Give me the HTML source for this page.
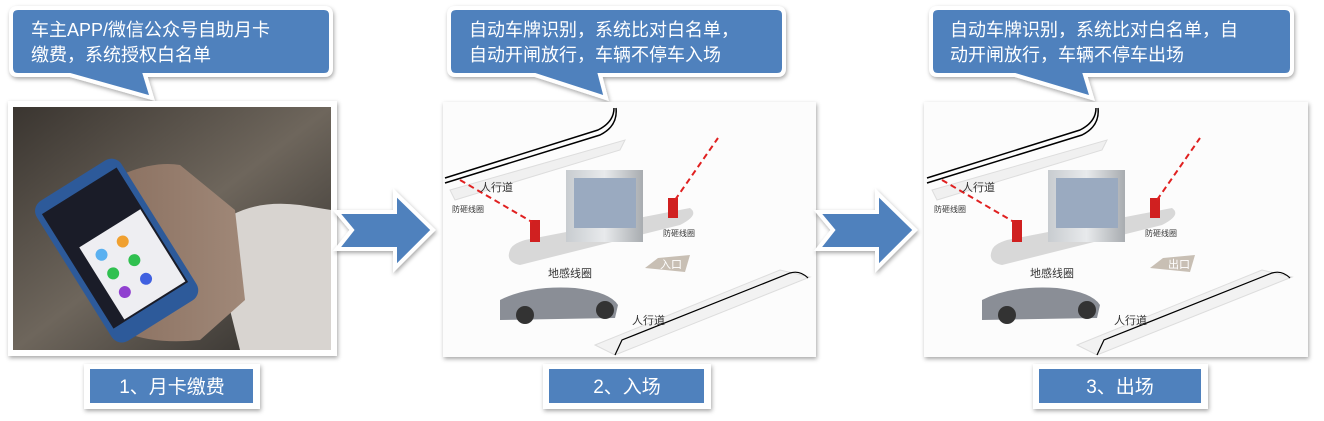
<!DOCTYPE html>
<html><head><meta charset="utf-8"><style>
body{margin:0;width:1324px;height:421px;background:#fff;overflow:hidden;font-family:"Liberation Sans","Noto Sans CJK SC",sans-serif}
svg{position:absolute;left:0;top:0}
</style></head><body>
<svg width="1324" height="421" viewBox="0 0 1324 421" font-family="Liberation Sans, Noto Sans CJK SC, sans-serif">
<defs>
<filter id="sh" x="-10%" y="-10%" width="120%" height="130%"><feDropShadow dx="1" dy="2" stdDeviation="2" flood-color="#000" flood-opacity="0.35"/></filter>
<linearGradient id="bg1" x1="0" y1="0" x2="1" y2="1"><stop offset="0" stop-color="#3a3530"/><stop offset="0.5" stop-color="#6e665c"/><stop offset="1" stop-color="#2c2a28"/></linearGradient>
<linearGradient id="hand" x1="0" y1="0" x2="1" y2="0"><stop offset="0" stop-color="#8a7060"/><stop offset="1" stop-color="#a08878"/></linearGradient>
<linearGradient id="booth" x1="0" y1="0" x2="1" y2="0"><stop offset="0" stop-color="#c8ccd0"/><stop offset="0.5" stop-color="#e8eaec"/><stop offset="1" stop-color="#a8acb0"/></linearGradient>
</defs>

<g filter="url(#sh)">
<path d="M18,8 H324 Q331,8 331,15 V68 Q331,75 324,75 H145 L152,98 L70,75 H18 Q11,75 11,68 V15 Q11,8 18,8Z" fill="#4f81bd" stroke="#fff" stroke-width="4"/>
<path d="M456,8 H777 Q784,8 784,15 V68 Q784,75 777,75 H600 L606,98 L535,75 H456 Q449,75 449,68 V15 Q449,8 456,8Z" fill="#4f81bd" stroke="#fff" stroke-width="4"/>
<path d="M938,8 H1285 Q1292,8 1292,15 V68 Q1292,75 1285,75 H1085 L1092,98 L1015,75 H938 Q931,75 931,68 V15 Q931,8 938,8Z" fill="#4f81bd" stroke="#fff" stroke-width="4"/>
</g>
<g fill="#fff" font-size="18">
<text x="31" y="36">车主APP/微信公众号自助月卡</text>
<text x="31" y="61">缴费，系统授权白名单</text>
<text x="469" y="36">自动车牌识别，系统比对白名单，</text>
<text x="469" y="61">自动开闸放行，车辆不停车入场</text>
<text x="950" y="36">自动车牌识别，系统比对白名单，自</text>
<text x="950" y="61">动开闸放行，车辆不停车出场</text>
</g>

<rect x="8" y="101" width="329" height="255" fill="#fff" filter="url(#sh)"/>
<rect x="13" y="107" width="318" height="243" fill="url(#bg1)"/>
<path d="M230,310 L232,215 Q260,200 300,205 L331,210 V350 H240Z" fill="#d8d4d0"/>
<path d="M110,180 Q150,160 180,165 L235,210 L245,300 L200,340 Q150,345 120,330Z" fill="url(#hand)"/>
<g transform="rotate(-32 110 240)">
<rect x="60" y="170" width="100" height="165" rx="12" fill="#2d5a9a"/>
<rect x="66" y="182" width="88" height="135" fill="#1a1c28"/>
<rect x="80" y="230" width="72" height="85" fill="#eeeef2"/>
<circle cx="95" cy="248" r="6" fill="#5ab0f0"/><circle cx="120" cy="248" r="6" fill="#f0a030"/>
<circle cx="95" cy="270" r="6" fill="#30c050"/><circle cx="120" cy="270" r="6" fill="#30c050"/>
<circle cx="95" cy="292" r="6" fill="#9040d0"/><circle cx="120" cy="292" r="6" fill="#4060e0"/>
</g>

<rect x="443" y="102" width="373" height="255" fill="#fcfcfc" filter="url(#sh)"/>
<rect x="924" y="102" width="384" height="255" fill="#fcfcfc" filter="url(#sh)"/>

<g id="scene">
<path d="M445,178 L598,130 Q614,122 614,108" fill="none" stroke="#000" stroke-width="1.5"/>
<path d="M445,183 L600,135 Q618,126 616,108" fill="none" stroke="#000" stroke-width="1.5"/>
<path d="M450,190 L625,140 L620,150 L455,200Z" fill="#f0f0f0" stroke="#ddd"/>
<path d="M595,345 L780,270 L810,277 L615,355Z" fill="#f2f2f2" stroke="#ddd"/>
<path d="M615,355 L622,340 L790,273 Q800,270 808,278" fill="none" stroke="#000" stroke-width="1.2"/>
<path d="M510,250 Q505,262 520,265 L680,225 Q700,215 690,208 L525,240 Q512,244 510,250Z" fill="#d8d8d8"/>
<rect x="566" y="170" width="77" height="72" fill="url(#booth)"/>
<rect x="574" y="178" width="62" height="50" fill="#9aaac0"/>
<rect x="530" y="220" width="10" height="22" fill="#d02020"/>
<rect x="668" y="198" width="10" height="20" fill="#d02020"/>
<line x1="460" y1="180" x2="532" y2="222" stroke="#e02020" stroke-width="2" stroke-dasharray="6,4"/>
<line x1="675" y1="200" x2="718" y2="138" stroke="#e02020" stroke-width="2" stroke-dasharray="6,4"/>
<path d="M500,300 Q530,285 575,288 Q610,292 618,305 L615,318 L500,320Z" fill="#8a8e96"/>
<circle cx="525" cy="315" r="9" fill="#333"/><circle cx="605" cy="310" r="9" fill="#333"/>
<g font-size="11" fill="#333"><text x="480" y="191">人行道</text><text x="632" y="324">人行道</text><text x="548" y="277">地感线圈</text></g>
<g font-size="8" fill="#333"><text x="452" y="212">防砸线圈</text><text x="663" y="236">防砸线圈</text></g>
</g>
<use href="#scene" transform="translate(482,0)"/>
<path d="M645,268 L658,258 L690,255 L685,272 Z" fill="#c8bfb4"/>
<text x="660" y="268" font-size="11" fill="#fff">入口</text>
<path d="M1150,268 L1163,258 L1195,255 L1190,272 Z" fill="#c8bfb4"/>
<text x="1168" y="268" font-size="11" fill="#fff">出口</text>

<g filter="url(#sh)">
<path d="M337,212 H395 V193 L433,230 L395,268 V249 H337 L352,230Z" fill="#4f81bd" stroke="#fff" stroke-width="4"/>
<path d="M818,212 H877 V193 L915,230 L877,268 V249 H818 L833,230Z" fill="#4f81bd" stroke="#fff" stroke-width="4"/>
</g>

<g filter="url(#sh)">
<rect x="84" y="364" width="176" height="45" fill="#fff"/>
<rect x="543" y="364" width="168" height="45" fill="#fff"/>
<rect x="1033" y="364" width="175" height="45" fill="#fff"/>
</g>
<rect x="90" y="369" width="163" height="34" fill="#4f81bd"/>
<rect x="549" y="369" width="155" height="34" fill="#4f81bd"/>
<rect x="1039" y="369" width="162" height="34" fill="#4f81bd"/>
<g fill="#fff" font-size="19" text-anchor="middle">
<text x="172" y="393">1、月卡缴费</text>
<text x="627" y="393">2、入场</text>
<text x="1120" y="393">3、出场</text>
</g>
</svg>
</body></html>
